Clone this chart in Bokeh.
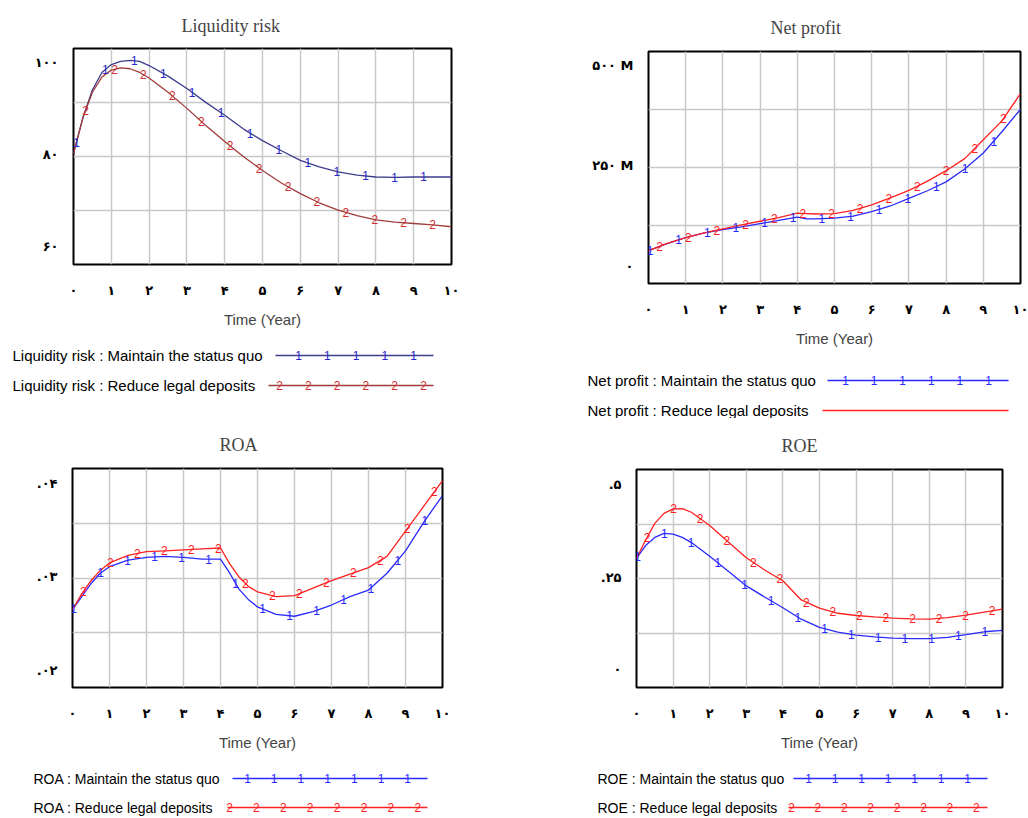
import numpy as np
from bokeh.plotting import figure
from bokeh.layouts import column, row
from bokeh.models import FixedTicker, Range1d
from bokeh.embed import file_html
from bokeh.resources import INLINE
from bokeh.core.properties import value

# ---------------- data ----------------
t_liq = [0, 0.25, 0.5, 0.75, 1, 1.25, 1.5, 1.75, 2, 2.5, 3, 3.5, 4, 4.5, 5, 5.5, 6, 6.5, 7, 7.5, 8, 8.5, 9, 9.5, 10]
liq_status_quo = [80.2, 88, 94, 97.8, 99.5, 100.2, 100.4, 100.2, 99.3, 97, 94.3, 91.3, 88.5, 85.5, 83, 80.8, 78.7, 77.3, 76.2, 75.5, 75.1, 75.0, 75.1, 75.1, 75.1]
liq_reduce = [80.2, 88, 93.5, 96.8, 98.3, 98.8, 98.6, 97.8, 96.6, 93.5, 90, 86.3, 82.8, 79.5, 76.5, 73.8, 71.5, 69.5, 67.9, 66.7, 65.8, 65.3, 65.0, 64.7, 64.3]

t_np = [0, 0.5, 1, 1.5, 2, 2.5, 3, 3.5, 4, 4.25, 4.5, 5, 5.5, 6, 6.5, 7, 7.5, 8, 8.5, 9, 9.5, 10]
np_status_quo_m = [39, 56, 71, 83, 91, 98, 106, 114, 122, 118, 118, 120, 125, 136, 150, 169, 188, 210, 242, 282, 335, 391]
np_reduce_m = [39, 57, 71, 83, 93, 103, 112, 121, 132, 131, 130, 131, 139, 153, 170, 189, 212, 238, 268, 315, 362, 430]

t_roa = [0, 0.25, 0.5, 0.75, 1, 1.5, 2, 2.5, 3, 3.5, 4, 4.25, 4.5, 4.75, 5, 5.5, 6, 6.5, 7, 7.5, 8, 8.5, 9, 9.5, 10]
roa_status_quo = [0.0265, 0.0279, 0.0293, 0.0304, 0.0311, 0.0318, 0.0321, 0.0322, 0.0321, 0.0319, 0.0319, 0.0304, 0.0287, 0.0276, 0.0268, 0.0260, 0.0258, 0.0263, 0.0270, 0.0279, 0.0286, 0.0304, 0.0328, 0.0359, 0.0387]
roa_reduce = [0.0265, 0.0282, 0.0296, 0.0307, 0.0315, 0.0323, 0.0327, 0.0328, 0.0329, 0.0330, 0.0331, 0.0314, 0.0300, 0.0290, 0.0284, 0.0279, 0.0280, 0.0288, 0.0296, 0.0303, 0.0310, 0.0322, 0.0349, 0.0376, 0.0403]

t_roe = [0, 0.25, 0.5, 0.75, 1, 1.25, 1.5, 2, 2.5, 3, 3.5, 4, 4.5, 5, 5.5, 6, 6.5, 7, 7.5, 8, 8.5, 9, 9.5, 10]
roe_status_quo = [0.300, 0.335, 0.357, 0.368, 0.366, 0.357, 0.343, 0.306, 0.266, 0.226, 0.196, 0.167, 0.136, 0.114, 0.101, 0.093, 0.088, 0.085, 0.0835, 0.0835, 0.087, 0.094, 0.102, 0.106]
roe_reduce = [0.300, 0.350, 0.395, 0.422, 0.434, 0.435, 0.425, 0.389, 0.345, 0.302, 0.269, 0.240, 0.188, 0.166, 0.152, 0.146, 0.142, 0.139, 0.137, 0.136, 0.140, 0.147, 0.155, 0.163]

x_ticks = list(range(11))
x_tick_labels = ["۰", "۱", "۲", "۳", "۴", "۵", "۶", "۷", "۸", "۹", "۱۰"]

liq_yticks = [60, 80, 100]
liq_ylabels = ["۶۰", "۸۰", "۱۰۰"]
np_yticks = [0, 250, 500]
np_ylabels = ["۰", "۲۵۰ M", "۵۰۰ M"]
roa_yticks = [0.02, 0.03, 0.04]
roa_ylabels = [".۰۲", ".۰۳", ".۰۴"]
roe_yticks = [0, 0.25, 0.5]
roe_ylabels = ["۰", ".۲۵", ".۵"]

SERIF = "Liberation Serif"
SANS = "Liberation Sans"
DIGITS = "DejaVu Sans"


def chart(title, t, s1, s2, c_line1, c_mark1, c_line2, c_mark2, yr, yticks, ylabels,
          W, H, left, top, fw, fh, title_offset, title_standoff, m1, m2):
    p = figure(width=W, height=H, x_range=Range1d(0, 10), y_range=Range1d(*yr),
               output_backend="svg", toolbar_location=None, frame_align=False,
               min_border_left=left, min_border_right=W - left - fw,
               min_border_top=top, min_border_bottom=H - top - fh)
    p.background_fill_color = "white"
    p.border_fill_color = "white"
    p.outline_line_color = "black"
    p.outline_line_width = 2
    # title
    p.title.text = title
    p.title.align = "left"
    p.title.offset = title_offset
    p.title.text_font = SERIF
    p.title.text_font_style = "normal"
    p.title.text_font_size = "18px"
    p.title.standoff = title_standoff
    # axes
    p.xaxis.ticker = FixedTicker(ticks=x_ticks)
    p.xaxis.major_label_overrides = {k: lab for k, lab in zip(x_ticks, x_tick_labels)}
    p.yaxis.ticker = FixedTicker(ticks=yticks)
    p.yaxis.major_label_overrides = {k: lab for k, lab in zip(yticks, ylabels)}
    for ax in (p.xaxis[0], p.yaxis[0]):
        ax.axis_line_color = None
        ax.major_tick_line_color = None
        ax.minor_tick_line_color = None
        ax.major_tick_in = 0
        ax.major_tick_out = 0
        ax.major_label_text_font = DIGITS
        ax.major_label_text_font_style = "bold"
        ax.major_label_text_font_size = "13px"
        ax.major_label_text_color = "black"
    p.xaxis.major_label_standoff = 18
    p.yaxis.major_label_standoff = 15
    p.xaxis.axis_label = "Time (Year)"
    p.xaxis.axis_label_text_font = SANS
    p.xaxis.axis_label_text_font_style = "normal"
    p.xaxis.axis_label_text_font_size = "15px"
    p.xaxis.axis_label_standoff = 10
    # grid: vertical at years, horizontal at quarters of the frame
    p.xgrid.ticker = FixedTicker(ticks=list(range(1, 10)))
    p.ygrid.ticker = FixedTicker(ticks=[yr[0] + (yr[1] - yr[0]) * k / 4 for k in (1, 2, 3)])
    p.grid.grid_line_color = "#c8c8c8"
    p.grid.grid_line_width = 1.5
    # lines
    p.line(t, s1, line_color=c_line1, line_width=1.3)
    p.line(t, s2, line_color=c_line2, line_width=1.3)
    # numbered markers along each line
    for (start, step), s, c, lab in ((m1, s1, c_mark1, "1"), (m2, s2, c_mark2, "2")):
        mt = np.arange(start, 10.001, step)
        my = np.interp(mt, t, s)
        p.text(x=mt, y=my, text=[lab] * len(mt), text_color=c, text_font=value(SANS),
               text_font_size="12px", text_align="center", text_baseline="middle")
    return p


def legend(W, H, font_size, rows):
    lg = figure(width=W, height=H, x_range=Range1d(0, W), y_range=Range1d(H, 0),
                output_backend="svg", toolbar_location=None, frame_align=False,
                x_axis_location=None, y_axis_location=None, min_border=0,
                min_border_left=0, min_border_right=0, min_border_top=0, min_border_bottom=0)
    lg.grid.visible = False
    lg.outline_line_color = None
    lg.background_fill_color = "white"
    lg.border_fill_color = "white"
    for (tx, y, label, x0, x1, c_line, c_mark, mark, mstart, mstep, mn) in rows:
        lg.text(x=[tx], y=[y], text=[label], text_font=value(SANS), text_font_size=font_size,
                text_color="black", text_align="left", text_baseline="middle")
        lg.segment(x0=[x0], y0=[y], x1=[x1], y1=[y], line_color=c_line, line_width=1.3)
        if mn:
            mx = [mstart + mstep * i for i in range(mn)]
            lg.text(x=mx, y=[y] * mn, text=[mark] * mn, text_color=c_mark, text_font=value(SANS),
                    text_font_size="12px", text_align="center", text_baseline="middle")
    return lg


B1, BM1, R1, RM1 = "#3c3c8c", "#2828c8", "#a03c3c", "#d03030"
B, R = "#2a2aff", "#ff2020"

p1 = chart("Liquidity risk", t_liq, liq_status_quo, liq_reduce, B1, BM1, R1, RM1,
           (56.1, 103.0), liq_yticks, liq_ylabels,
           560, 335, 73, 46, 378, 218, 108, 26, (0.08, 0.765), (0.32, 0.765))
lg1 = legend(560, 83, "15px", [
    (12, 20, "Liquidity risk : Maintain the status quo", 275, 433, B1, BM1, "1", 298, 28.75, 5),
    (12, 50, "Liquidity risk : Reduce legal deposits", 268, 433, R1, RM1, "2", 279, 28.8, 6),
])

p2 = chart("Net profit", t_np, np_status_quo_m, np_reduce_m, B, B, R, R,
           (-43.1, 534.9), np_yticks, np_ylabels,
           468, 360, 88, 51, 372, 232, 122, 28, (0.04, 0.77), (0.30, 0.77))
lg2 = legend(468, 58, "15px", [
    (27, 20, "Net profit : Maintain the status quo", 267, 448, B, B, "1", 285, 28.6, 6),
    (27, 50, "Net profit : Reduce legal deposits", 262, 448, R, R, "2", 0, 0, 0),
])

p3 = chart("ROA", t_roa, roa_status_quo, roa_reduce, B, B, R, R,
           (0.01818, 0.0416), roa_yticks, roa_ylabels,
           560, 342, 72, 50, 370, 219, 147, 28, (0.03, 0.73), (0.29, 0.73))
lg3 = legend(560, 58, "14px", [
    (33, 18, "ROA : Maintain the status quo", 232, 427, B, B, "1", 247, 26.7, 7),
    (33, 47, "ROA : Reduce legal deposits", 227, 427, R, R, "2", 229, 26.9, 8),
])

p4 = chart("ROE", t_roe, roe_status_quo, roe_reduce, B, B, R, R,
           (-0.0486, 0.5405), roe_yticks, roe_ylabels,
           468, 342, 76, 51, 366, 218, 145, 28, (0.03, 0.73), (0.29, 0.725))
lg4 = legend(468, 58, "14px", [
    (37, 18, "ROE : Maintain the status quo", 233, 427, B, B, "1", 248, 26.5, 7),
    (37, 47, "ROE : Reduce legal deposits", 228, 427, R, R, "2", 231, 26.4, 8),
])

layout = column(row(column(p1, lg1), column(p2, lg2)),
                row(column(p3, lg3), column(p4, lg4)))

open("out.html", "w").write(file_html(layout, INLINE))
